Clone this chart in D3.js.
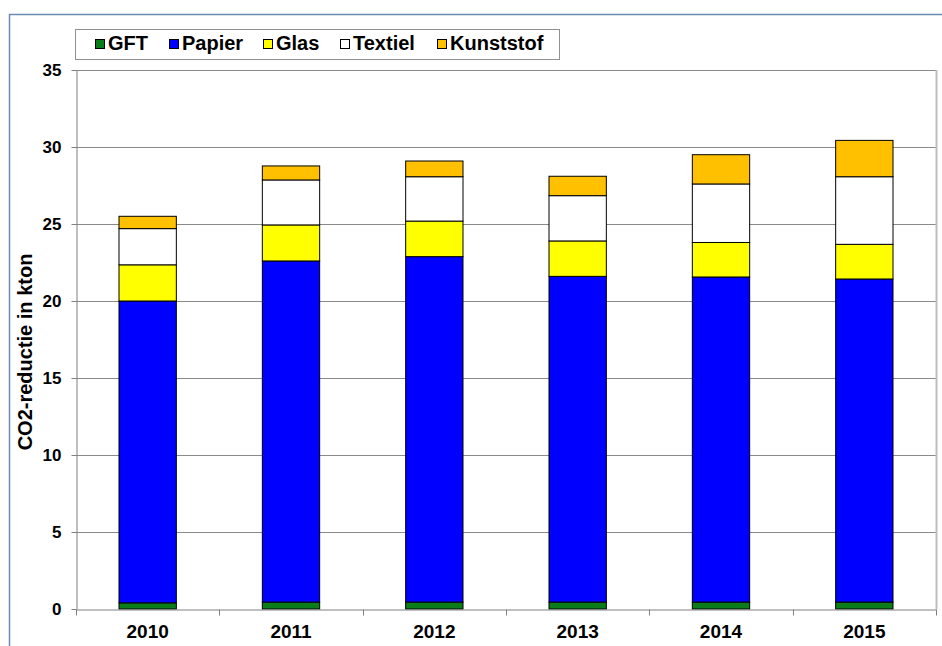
<!DOCTYPE html>
<html>
<head>
<meta charset="utf-8">
<script src="https://cdn.jsdelivr.net/npm/d3@7"></script>
<style>
  body { margin: 0; background: #fff; }
  svg { display: block; font-family: "Liberation Sans", Arial, sans-serif; }
</style>
</head>
<body>
<svg id="chart" width="942" height="646"></svg>
<script>
const years = ['2010', '2011', '2012', '2013', '2014', '2015'];
const gft = [0.4, 0.45, 0.45, 0.45, 0.45, 0.45];
const papier = [19.6, 22.15, 22.43, 21.15, 21.11, 20.98];
const glas = [2.35, 2.34, 2.31, 2.3, 2.24, 2.25];
const textiel = [2.35, 2.92, 2.88, 2.94, 3.8, 4.39];
const kunststof = [0.8, 0.91, 1.02, 1.26, 1.9, 2.36];
const yTicks = [0, 5, 10, 15, 20, 25, 30, 35];

const keys = ['GFT', 'Papier', 'Glas', 'Textiel', 'Kunststof'];
const colors = {GFT: '#0a7d1a', Papier: '#0000ff', Glas: '#ffff00', Textiel: '#ffffff', Kunststof: '#ffc000'};

const rows = years.map((year, i) => ({
    year,
    GFT: gft[i],
    Papier: papier[i],
    Glas: glas[i],
    Textiel: textiel[i],
    Kunststof: kunststof[i],
}));

const plotLeft = 76, plotRight = 936, plotTop = 70, plotBottom = 609;

const svg = d3.select('#chart');

// frame round the chart
svg.append('path')
    .attr('d', `M9.5 646 V14.5 H942`)
    .attr('fill', 'none')
    .attr('stroke', '#6c8bb5')
    .attr('stroke-width', 1.5);

const x = d3.scaleBand().domain(years).range([plotLeft, plotRight]).paddingInner(0.6).paddingOuter(0.3);
const y = d3.scaleLinear().domain([0, 35]).range([plotBottom, plotTop]);

// gridlines
svg.append('g')
    .selectAll('line')
    .data(yTicks.filter(d => d > 0))
    .enter()
    .append('line')
    .attr('x1', plotLeft)
    .attr('x2', plotRight)
    .attr('y1', d => Math.round(y(d)) + 0.5)
    .attr('y2', d => Math.round(y(d)) + 0.5)
    .attr('stroke', '#8a8a8a')
    .attr('stroke-width', 1);

// right border of plot area
svg.append('line')
    .attr('x1', plotRight + 0.5).attr('x2', plotRight + 0.5)
    .attr('y1', plotTop).attr('y2', plotBottom)
    .attr('stroke', '#bdbdbd')
    .attr('stroke-width', 2);

// bars
const stack = d3.stack().keys(keys)(rows);
svg.append('g')
    .selectAll('g')
    .data(stack)
    .enter()
    .append('g')
    .attr('fill', d => colors[d.key])
    .selectAll('rect')
    .data(d => d)
    .enter()
    .append('rect')
    .attr('x', d => x(d.data.year))
    .attr('width', x.bandwidth())
    .attr('y', d => y(d[1]))
    .attr('height', d => y(d[0]) - y(d[1]))
    .attr('stroke', '#000')
    .attr('stroke-width', 1);

// y axis
const yAxis = svg.append('g')
    .attr('transform', `translate(${plotLeft + 0.5},0)`)
    .call(d3.axisLeft(y).tickValues(yTicks).tickSize(5).tickPadding(10).tickSizeOuter(0));
yAxis.select('.domain').attr('stroke', '#808080');
yAxis.selectAll('.tick line').attr('stroke', '#808080');
yAxis.selectAll('.tick text')
    .attr('font-size', 17)
    .attr('font-weight', 'bold')
    .attr('fill', '#000')
    .attr('font-family', '"Liberation Sans", Arial, sans-serif');

// x axis
const xAxis = svg.append('g')
    .attr('transform', `translate(0,${plotBottom + 0.5})`)
    .call(d3.axisBottom(x).tickSize(0).tickPadding(15).tickSizeOuter(0));
xAxis.select('.domain').attr('stroke', '#808080');
xAxis.selectAll('.tick text')
    .attr('font-size', 19)
    .attr('font-weight', 'bold')
    .attr('fill', '#000')
    .attr('font-family', '"Liberation Sans", Arial, sans-serif');

// category separators below the x axis
xAxis.selectAll('line.sep')
    .data(d3.range(years.length + 1))
    .enter()
    .append('line')
    .attr('class', 'sep')
    .attr('x1', i => Math.round(plotLeft + i * x.step()) + 0.5)
    .attr('x2', i => Math.round(plotLeft + i * x.step()) + 0.5)
    .attr('y1', 0)
    .attr('y2', 6)
    .attr('stroke', '#808080');

// y label
svg.append('text')
    .attr('transform', `translate(32,352) rotate(-90)`)
    .attr('text-anchor', 'middle')
    .attr('font-size', 20)
    .attr('font-weight', 'bold')
    .text('CO2-reductie in kton');

// legend
const legend = svg.append('g');
legend.append('rect')
    .attr('x', 75.5).attr('y', 29.5)
    .attr('width', 484).attr('height', 30)
    .attr('fill', '#fff')
    .attr('stroke', '#909090');

const legendX = [95, 169, 263, 340, 437];
const item = legend.selectAll('g.item')
    .data(keys)
    .enter()
    .append('g')
    .attr('class', 'item')
    .attr('transform', (d, i) => `translate(${legendX[i]},0)`);
item.append('rect')
    .attr('x', 0.5).attr('y', 39.5)
    .attr('width', 9).attr('height', 9)
    .attr('fill', d => colors[d])
    .attr('stroke', '#000');
item.append('text')
    .attr('x', 13)
    .attr('y', 50)
    .attr('font-size', 20)
    .attr('font-weight', 'bold')
    .text(d => d);
</script>
</body>
</html>
